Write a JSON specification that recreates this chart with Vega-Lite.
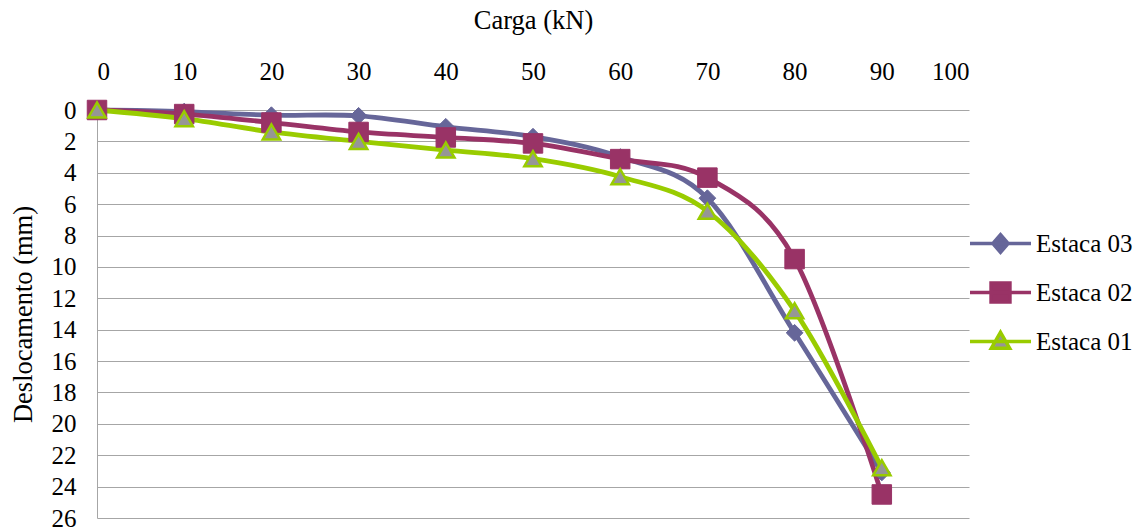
{
  "$schema": "https://vega.github.io/schema/vega-lite/v6.json",
  "autosize": "none",
  "width": 872,
  "height": 408,
  "padding": {"left": 97, "top": 110, "right": 179, "bottom": 14},
  "background": "white",
  "config": {
    "view": {"stroke": null},
    "font": "Liberation Serif",
    "axis": {
      "labelFont": "Liberation Serif",
      "titleFont": "Liberation Serif",
      "labelFontSize": 25,
      "titleFontSize": 26.5,
      "titleFontWeight": "normal",
      "labelColor": "black",
      "titleColor": "black",
      "ticks": false,
      "gridColor": "#a6a6a6",
      "gridWidth": 1,
      "domainColor": "#a6a6a6",
      "domainWidth": 1
    },
    "legend": {
      "labelFont": "Liberation Serif",
      "labelFontSize": 25,
      "labelColor": "black"
    }
  },
  "data": {
    "values": [
      {"carga": 0, "desloc": 0, "estaca": "Estaca 03"},
      {"carga": 10, "desloc": 0.1, "estaca": "Estaca 03"},
      {"carga": 20, "desloc": 0.33, "estaca": "Estaca 03"},
      {"carga": 30, "desloc": 0.37, "estaca": "Estaca 03"},
      {"carga": 40, "desloc": 1.07, "estaca": "Estaca 03"},
      {"carga": 50, "desloc": 1.7, "estaca": "Estaca 03"},
      {"carga": 60, "desloc": 3.0, "estaca": "Estaca 03"},
      {"carga": 70, "desloc": 5.62, "estaca": "Estaca 03"},
      {"carga": 80, "desloc": 14.2, "estaca": "Estaca 03"},
      {"carga": 90, "desloc": 23.1, "estaca": "Estaca 03"},
      {"carga": 0, "desloc": 0, "estaca": "Estaca 02"},
      {"carga": 10, "desloc": 0.26, "estaca": "Estaca 02"},
      {"carga": 20, "desloc": 0.8, "estaca": "Estaca 02"},
      {"carga": 30, "desloc": 1.4, "estaca": "Estaca 02"},
      {"carga": 40, "desloc": 1.75, "estaca": "Estaca 02"},
      {"carga": 50, "desloc": 2.13, "estaca": "Estaca 02"},
      {"carga": 60, "desloc": 3.13, "estaca": "Estaca 02"},
      {"carga": 70, "desloc": 4.31, "estaca": "Estaca 02"},
      {"carga": 80, "desloc": 9.5, "estaca": "Estaca 02"},
      {"carga": 90, "desloc": 24.5, "estaca": "Estaca 02"},
      {"carga": 0, "desloc": 0, "estaca": "Estaca 01"},
      {"carga": 10, "desloc": 0.55, "estaca": "Estaca 01"},
      {"carga": 20, "desloc": 1.4, "estaca": "Estaca 01"},
      {"carga": 30, "desloc": 2.0, "estaca": "Estaca 01"},
      {"carga": 40, "desloc": 2.55, "estaca": "Estaca 01"},
      {"carga": 50, "desloc": 3.1, "estaca": "Estaca 01"},
      {"carga": 60, "desloc": 4.25, "estaca": "Estaca 01"},
      {"carga": 70, "desloc": 6.45, "estaca": "Estaca 01"},
      {"carga": 80, "desloc": 12.8, "estaca": "Estaca 01"},
      {"carga": 90, "desloc": 22.8, "estaca": "Estaca 01"}
    ]
  },
  "encoding": {
    "x": {
      "field": "carga",
      "type": "quantitative",
      "scale": {"domain": [0, 100], "nice": false},
      "axis": {
        "orient": "top",
        "title": "Carga (kN)",
        "values": [0, 10, 20, 30, 40, 50, 60, 70, 80, 90, 100],
        "grid": false,
        "domain": false,
        "labelFont": "Liberation Serif",
        "labelFontSize": 25,
        "labelPadding": 26,
        "titlePadding": 25
      }
    },
    "y": {
      "field": "desloc",
      "type": "quantitative",
      "scale": {"domain": [0, 26], "reverse": true, "nice": false},
      "axis": {
        "title": "Deslocamento (mm)",
        "values": [0, 2, 4, 6, 8, 10, 12, 14, 16, 18, 20, 22, 24, 26],
        "grid": true,
        "labelFont": "Liberation Serif",
        "labelFontSize": 25,
        "labelPadding": 21,
        "titlePadding": 14
      }
    }
  },
  "layer": [
    {
      "mark": {"type": "line", "interpolate": "cardinal", "tension": 0, "strokeWidth": 4.8},
      "encoding": {
        "color": {
          "field": "estaca",
          "type": "nominal",
          "scale": {
            "domain": ["Estaca 03", "Estaca 02", "Estaca 01"],
            "range": ["#666699", "#993366", "#99cc00"]
          },
          "legend": {
            "title": null,
            "orient": "none",
            "legendX": 871,
            "legendY": 101,
            "symbolType": "M-1,0H1",
            "symbolSize": 3721,
            "symbolStrokeWidth": 3.5,
            "labelFont": "Liberation Serif",
            "labelFontSize": 25,
            "labelOffset": 3,
            "rowPadding": -16,
            "encode": {
              "symbols": {
                "update": {
                  "shape": {"signal": "{'Estaca 03': 'M-1,0H1M0,-0.29L0.25,0L0,0.29L-0.25,0Z', 'Estaca 02': 'M-1,0H1M-0.31,-0.31H0.31V0.31H-0.31Z', 'Estaca 01': 'M-1,0H1M0,-0.3L0.3,0.22H-0.3Z'}[datum.value]"},
                  "fill": {"signal": "{'Estaca 03': '#666699', 'Estaca 02': '#993366', 'Estaca 01': '#969696'}[datum.value]"},
                  "stroke": {"signal": "{'Estaca 03': '#666699', 'Estaca 02': '#993366', 'Estaca 01': '#99cc00'}[datum.value]"},
                  "strokeWidth": {"value": 3.5},
                  "opacity": {"value": 1},
                  "fillOpacity": {"value": 1}
                }
              }
            }
          }
        }
      }
    },
    {
      "transform": [{"filter": "datum.estaca === 'Estaca 03'"}],
      "mark": {"type": "point", "shape": "diamond", "size": 280, "filled": true, "fill": "#666699", "stroke": "#666699", "strokeWidth": 1, "opacity": 1}
    },
    {
      "transform": [{"filter": "datum.estaca === 'Estaca 02'"}],
      "mark": {"type": "point", "shape": "square", "size": 380, "filled": true, "fill": "#993366", "stroke": "#993366", "strokeWidth": 1, "opacity": 1}
    },
    {
      "transform": [{"filter": "datum.estaca === 'Estaca 01'"}],
      "mark": {"type": "point", "shape": "triangle-up", "size": 300, "filled": true, "fill": "#969696", "stroke": "#99cc00", "strokeWidth": 2.5, "opacity": 1}
    }
  ]
}
